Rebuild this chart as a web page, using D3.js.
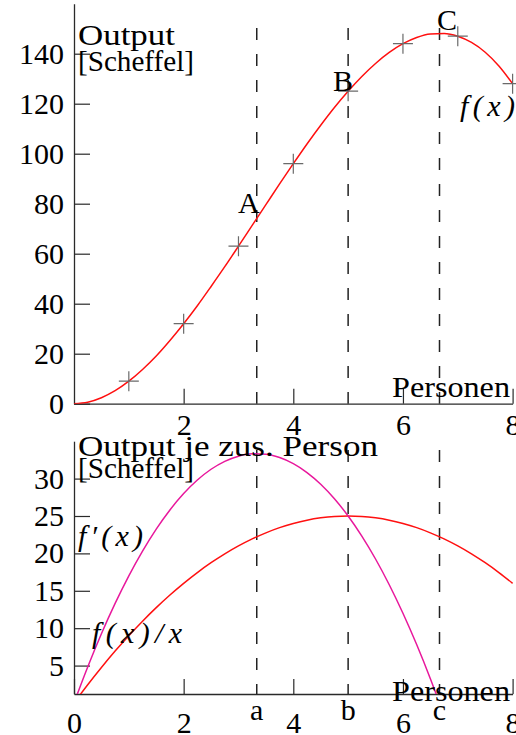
<!DOCTYPE html>
<html>
<head>
<meta charset="utf-8">
<script src="https://cdn.jsdelivr.net/npm/d3@7/dist/d3.min.js"></script>
<style>
  html, body { margin: 0; padding: 0; background: #fff; }
  svg { display: block; }
</style>
</head>
<body>
<script>
// Observed output per number of workers (crosses)
const persons = [1, 2, 3, 4, 5, 6, 7, 8];
const output = [9, 32, 63, 96, 125, 144, 147, 128];

// Fitted curves, sampled every quarter person
const xs = [0, 0.25, 0.5, 0.75, 1, 1.25, 1.5, 1.75, 2, 2.25, 2.5, 2.75, 3, 3.25, 3.5, 3.75,
            4, 4.25, 4.5, 4.75, 5, 5.25, 5.5, 5.75, 6, 6.25, 6.5, 6.75, 7, 7.25, 7.5, 7.75, 8];
const totalOutput = [0, 0.6, 2.4, 5.2, 9, 13.7, 19.1, 25.3, 32, 39.2, 46.9, 54.8, 63, 71.3, 79.6, 87.9,
                     96, 103.9, 111.4, 118.5, 125, 130.9, 136.1, 140.5, 144, 146.5, 147.9, 148.1, 147, 144.5, 140.6, 135.1, 128];
const marginalOutput = [0, 4.81, 9.25, 13.31, 17, 20.31, 23.25, 25.81, 28, 29.81, 31.25, 32.31, 33, 33.31, 33.25, 32.81,
                        32, 30.81, 29.25, 27.31, 25, 22.31, 19.25, 15.81, 12, 7.81, 3.25, -1.69];
const averageOutput = [0, 2.44, 4.75, 6.94, 9, 10.94, 12.75, 14.44, 16, 17.44, 18.75, 19.94, 21, 21.94, 22.75, 23.44,
                       24, 24.44, 24.75, 24.94, 25, 24.94, 24.75, 24.44, 24, 23.44, 22.75, 21.94, 21, 19.94, 18.75, 17.44, 16];

// Marked points: inflection (A/a), max average (B/b), max total (C/c)
const markX = [10 / 3, 5, 20 / 3];
const markUpper = ["A", "B", "C"];
const markLower = ["a", "b", "c"];

const topYTicks = [0, 20, 40, 60, 80, 100, 120, 140];
const topXTicks = [2, 4, 6, 8];
const botYTicks = [5, 10, 15, 20, 25, 30];
const botXTicks = [0, 2, 4, 6, 8];

const W = 516, H = 735;
const FONT = "'Liberation Serif', 'DejaVu Serif', serif";
const FS = 30;
const axisColor = "#2a2a2a";

const svg = d3.select("body").append("svg").attr("width", W).attr("height", H);
svg.append("rect").attr("width", W).attr("height", H).attr("fill", "#fff");

const x = d3.scaleLinear().domain([0, 8]).range([74, 512.6]);
const yTop = d3.scaleLinear().domain([0, 160]).range([403.7, 3.7]);
const yBot = d3.scaleLinear().domain([1.2, 35]).range([694, 441.2]);

const defs = svg.append("defs");
defs.append("clipPath").attr("id", "clipTop").append("rect")
  .attr("x", x(0)).attr("y", yTop(160)).attr("width", x(8) - x(0) + 4).attr("height", yTop(0) - yTop(160));
defs.append("clipPath").attr("id", "clipBot").append("rect")
  .attr("x", x(0)).attr("y", yBot(35)).attr("width", x(8) - x(0) + 4).attr("height", yBot(1.2) - yBot(35));

function label(g, txt, px, py, opts = {}) {
  const t = g.append("text")
    .attr("x", px).attr("y", py)
    .attr("font-family", FONT).attr("font-size", FS)
    .attr("fill", "#000")
    .text(txt);
  if (opts.italic) t.attr("font-style", "italic");
  if (opts.anchor) t.attr("text-anchor", opts.anchor);
  if (opts.len) t.attr("textLength", opts.len).attr("lengthAdjust", opts.adjust || "spacingAndGlyphs");
  return t;
}

function styleAxis(g) {
  g.attr("font-family", FONT).attr("font-size", FS);
  g.selectAll("path.domain").attr("stroke", axisColor).attr("stroke-width", 1.3);
  g.selectAll(".tick line").attr("stroke", axisColor).attr("stroke-width", 1.2);
  g.selectAll(".tick text").attr("fill", "#000");
}

function dashed(g, y0px, y1px) {
  g.selectAll("line.mark").data(markX).join("line")
    .attr("class", "mark")
    .attr("x1", d => x(d)).attr("x2", d => x(d))
    .attr("y1", y0px).attr("y2", y1px)
    .attr("stroke", "#222").attr("stroke-width", 1.5)
    .attr("stroke-dasharray", "12,14");
}

// ---------- upper panel: total output ----------
const gT = svg.append("g");
dashed(gT, 28, yTop(0));

gT.append("g").attr("transform", `translate(${x(0)},0)`)
  .call(d3.axisLeft(yTop).tickValues(topYTicks).tickSizeInner(-16).tickSizeOuter(0).tickPadding(10))
  .call(styleAxis);
gT.append("g").attr("transform", `translate(0,${yTop(0)})`)
  .call(d3.axisBottom(x).tickValues(topXTicks).tickSizeInner(-15).tickSizeOuter(0).tickPadding(10))
  .call(styleAxis);

const lineTop = d3.line().x((d, i) => x(xs[i])).y(d => yTop(d)).curve(d3.curveMonotoneX);
gT.append("path").datum(totalOutput).attr("d", lineTop)
  .attr("clip-path", "url(#clipTop)")
  .attr("fill", "none").attr("stroke", "#ff1010").attr("stroke-width", 1.5);

gT.selectAll("path.cross").data(output).join("path")
  .attr("class", "cross")
  .attr("transform", (d, i) => `translate(${x(persons[i])},${yTop(d)})`)
  .attr("d", "M-10,0H10M0,-10V10")
  .attr("stroke", "#6a6a6a").attr("stroke-width", 1.2).attr("fill", "none");

label(gT, "Output", 78, 45, { len: 97 });
label(gT, "[Scheffel]", 78, 71, { len: 116 });
label(gT, "Personen", 392, 397, { len: 118 });

const upperPos = [[238, 213], [333, 91], [437, 30]];
markUpper.forEach((m, i) => label(gT, m, upperPos[i][0], upperPos[i][1]));
label(gT, "f(x)", 460, 116, { italic: true, len: 55, adjust: "spacing" });

// ---------- lower panel: marginal and average output ----------
const gB = svg.append("g");
dashed(gB, 450, yBot(1.2));

gB.append("g").attr("transform", `translate(${x(0)},0)`)
  .call(d3.axisLeft(yBot).tickValues(botYTicks).tickSizeInner(-16).tickSizeOuter(0).tickPadding(10))
  .call(styleAxis);
gB.append("g").attr("transform", `translate(0,${yBot(1.2)})`)
  .call(d3.axisBottom(x).tickValues(botXTicks).tickSizeInner(-15).tickSizeOuter(0).tickPadding(18))
  .call(styleAxis);

const lineBot = d3.line().x((d, i) => x(xs[i])).y(d => yBot(d)).curve(d3.curveMonotoneX);
gB.append("path").datum(averageOutput).attr("d", lineBot)
  .attr("clip-path", "url(#clipBot)")
  .attr("fill", "none").attr("stroke", "#ff1010").attr("stroke-width", 1.5);
gB.append("path").datum(marginalOutput).attr("d", lineBot)
  .attr("clip-path", "url(#clipBot)")
  .attr("fill", "none").attr("stroke", "#e8189c").attr("stroke-width", 1.5);

label(gB, "Output je zus. Person", 78, 456, { len: 300 });
label(gB, "[Scheffel]", 78, 478, { len: 116 });
label(gB, "Personen", 392, 701, { len: 118 });
label(gB, "f\u2032(x)", 78, 546, { italic: true, len: 65, adjust: "spacing" });
label(gB, "f(x)/x", 92, 643, { italic: true, len: 90, adjust: "spacing" });

markLower.forEach((m, i) => label(gB, m, x(markX[i]), 720, { anchor: "middle" }));
</script>
</body>
</html>
